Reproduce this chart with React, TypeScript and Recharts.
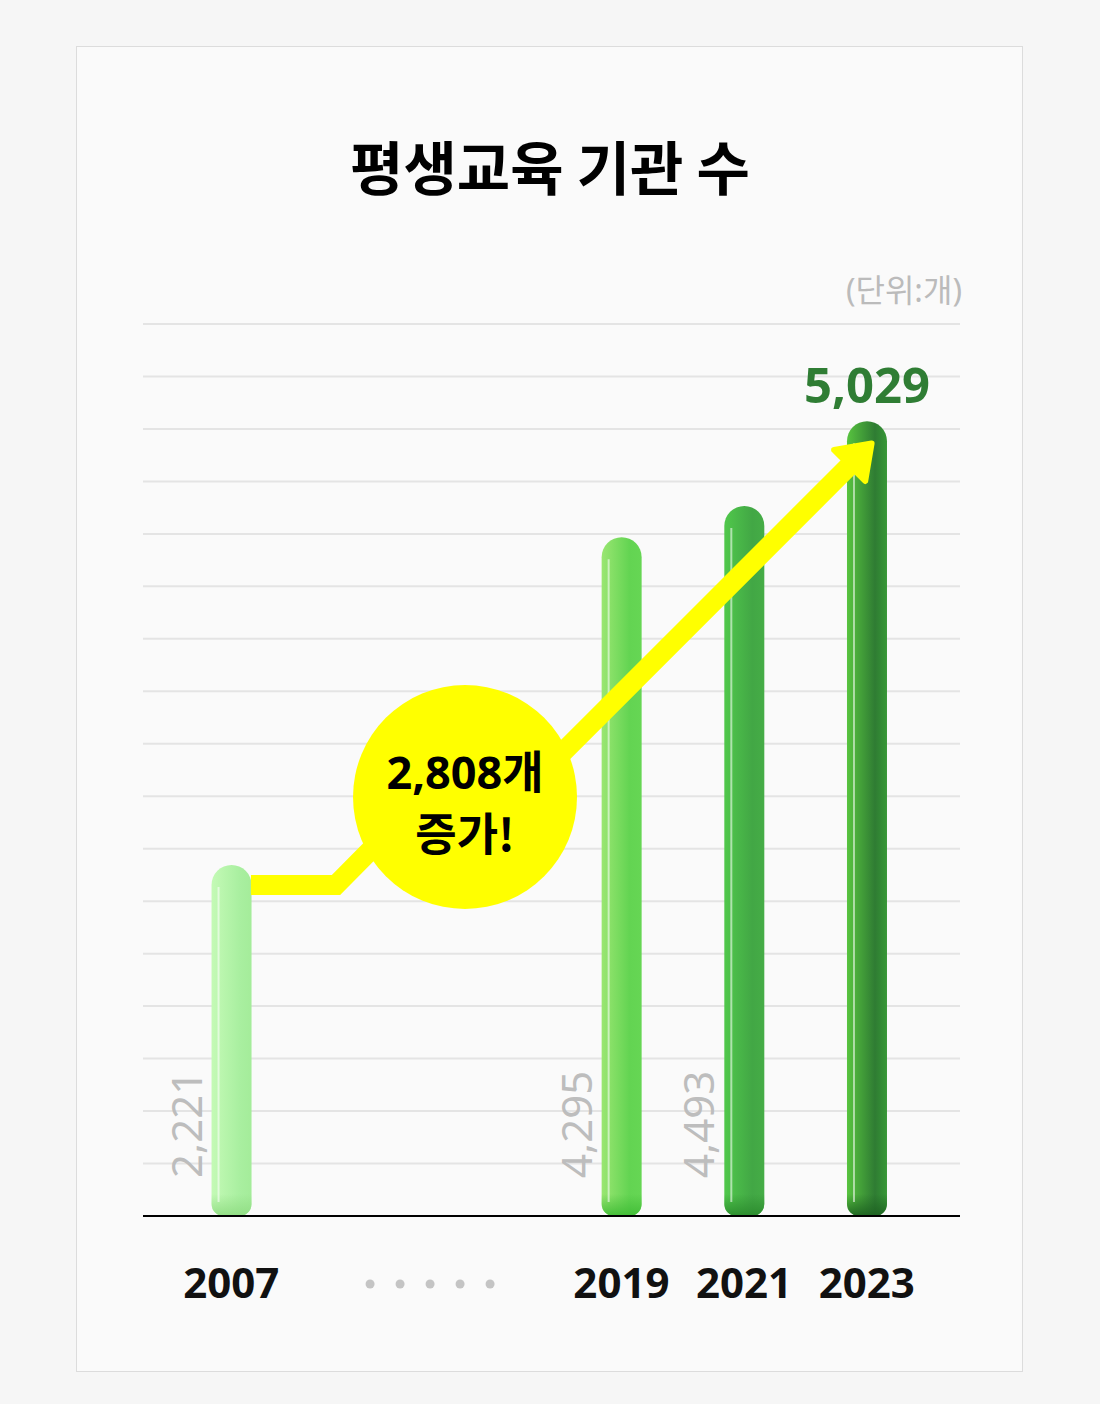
import React from 'react';
import {
  ComposedChart,
  Bar,
  Line,
  XAxis,
  YAxis,
  CartesianGrid,
  ReferenceDot,
  LabelList,
} from 'recharts';

// ---------- data ----------
const chartTitle = '평생교육 기관 수';
const unitLabel = '(단위:개)';
const years = ['2007', '2019', '2021', '2023'];
const counts = [2221, 4295, 4493, 5029];
// horizontal slot of each year on the (compressed) timeline
const yearSlots = [0, 3.18, 4.18, 5.18];
const gapSlot = 1.62; // the "· · · · ·" break between 2007 and 2019
const yTicks = [0, 332, 664, 996, 1328, 1660, 1992, 2324, 2656, 2988, 3320, 3652, 3984, 4316, 4648, 4980, 5312, 5644];
// arrow annotation path (slot, value)
const arrowSlots = [0.16, 0.853, 1.62, 2.394, 5.052];
const arrowValues = [2094, 2094, 2695, 2695, 4758];
// badge annotation (slot, value)
const badgeSlot = 1.905;
const badgeValue = 2651;

const barData = years.map((year, i) => ({ year, pos: yearSlots[i], v: counts[i] }));
const arrowData = arrowSlots.map((pos, i) => ({ pos, v: arrowValues[i], head: i === arrowSlots.length - 1 }));
const tickSlots = [yearSlots[0], gapSlot, ...yearSlots.slice(1)];
const tickLabels = [years[0], '', ...years.slice(1)];
const increase = counts[counts.length - 1] - counts[0];

// ---------- styles ----------
const FONT = "'Noto Sans', 'Noto Sans CJK KR', sans-serif";
const KFONT = "'Noto Sans CJK KR', 'Noto Sans', sans-serif";
const BAR_W = 40;
const barColors = [
  ['#c4fab6', '#a9efa0', '#a4ec9a', '#8fdc82'],
  ['#9ae672', '#63d452', '#66d654', '#3fbb35'],
  ['#50c84b', '#42a745', '#45ad46', '#2a8a2c'],
  ['#58c43f', '#2f7c33', '#379836', '#1c6020'],
];

const BarShape = (props: any) => {
  const { x, y, width, height, index } = props;
  if (!height || height <= 0) return <g />;
  const cols = barColors[index % barColors.length];
  const left = x + width / 2 - BAR_W / 2;
  const right = left + BAR_W;
  const r = BAR_W / 2;
  const rb = 12;
  const bottom = y + height;
  const d = `M${left},${bottom - rb} L${left},${y + r} A${r},${r} 0 0 1 ${right},${y + r} L${right},${bottom - rb} A${rb},${rb} 0 0 1 ${right - rb},${bottom} L${left + rb},${bottom} A${rb},${rb} 0 0 1 ${left},${bottom - rb} Z`;
  return (
    <g>
      <defs>
        <linearGradient id={`bh${index}`} x1="0" y1="0" x2="1" y2="0">
          <stop offset="0" stopColor={cols[0]} />
          <stop offset="0.7" stopColor={cols[1]} />
          <stop offset="1" stopColor={cols[2]} />
        </linearGradient>
        <linearGradient id={`bv${index}`} gradientUnits="userSpaceOnUse" x1="0" y1={bottom - 22} x2="0" y2={bottom}>
          <stop offset="0" stopColor={cols[3]} stopOpacity="0" />
          <stop offset="1" stopColor={cols[3]} stopOpacity="0.9" />
        </linearGradient>
      </defs>
      <path d={d} fill={`url(#bh${index})`} />
      <path d={d} fill={`url(#bv${index})`} />
      <line x1={left + 7} x2={left + 7} y1={y + r + 2} y2={bottom - 14} stroke="#ffffff" strokeOpacity="0.55" strokeWidth={2} />
    </g>
  );
};

const ValueLabel = (props: any) => {
  const { x, y, width, height, value, index } = props;
  const txt = Number(value).toLocaleString('en-US');
  const cx = x + width / 2;
  if (index === counts.length - 1) {
    return (
      <text x={cx} y={y - 18} textAnchor="middle" fontFamily={FONT} fontWeight={700} fontSize={49} fill="#2f7d34">
        {txt}
      </text>
    );
  }
  const bx = cx - BAR_W / 2 - 10;
  const by = y + height - 38;
  return (
    <text x={bx} y={by} transform={`rotate(-90 ${bx} ${by})`} textAnchor="start" fontFamily={FONT} fontSize={42} fill="#bdbdbd">
      {txt}
    </text>
  );
};

const XTick = (props: any) => {
  const { x, y, payload } = props;
  const idx = tickSlots.findIndex((s) => Math.abs(s - payload.value) < 1e-6);
  const label = idx >= 0 ? tickLabels[idx] : '';
  if (label === '') {
    return (
      <g>
        {[-2, -1, 0, 1, 2].map((k) => (
          <circle key={k} cx={x + k * 30} cy={y + 68} r={4.5} fill="#c4c4c4" />
        ))}
      </g>
    );
  }
  return (
    <text x={x} y={y + 82} textAnchor="middle" fontFamily={FONT} fontWeight={700} fontSize={42} fill="#111">
      {label}
    </text>
  );
};

const ArrowDot = (props: any) => {
  const { cx, cy, payload, index } = props;
  if (!payload || !payload.head) return <g key={`d${index}`} />;
  return (
    <g key={`d${index}`} transform={`translate(${cx},${cy}) rotate(-45)`}>
      <polygon points="29,0 -2,-22 -2,22" fill="#ffff00" stroke="#ffff00" strokeWidth={6} strokeLinejoin="round" />
    </g>
  );
};

const Badge = (props: any) => {
  const { cx, cy } = props;
  return (
    <g>
      <circle cx={cx} cy={cy} r={112} fill="#ffff00" />
      <text x={cx} y={cy - 8} textAnchor="middle" fontFamily={FONT} fontWeight={700} fontSize={45} fill="#000">
        {`${increase.toLocaleString('en-US')}개`}
      </text>
      <text x={cx} y={cy + 54} textAnchor="middle" fontFamily={KFONT} fontWeight={700} fontSize={45} fill="#000">
        증가!
      </text>
    </g>
  );
};

export default function App() {
  return (
    <div style={{ position: 'absolute', left: 0, top: 0, width: 1100, height: 1404, background: '#f6f6f6', overflow: 'hidden' }}>
      <div
        style={{
          position: 'absolute',
          left: 76,
          top: 46,
          width: 945,
          height: 1324,
          background: '#fafafa',
          border: '1px solid #dcdcdc',
        }}
      />
      <svg width={1100} height={320} style={{ position: 'absolute', left: 0, top: 0 }}>
        <text x={550} y={190} textAnchor="middle" fontFamily={KFONT} fontWeight={700} fontSize={58} fill="#000">
          {chartTitle}
        </text>
        <text x={962} y={302} textAnchor="end" fontFamily={FONT} fontSize={32} fill="#bbbbbb">
          {unitLabel}
        </text>
      </svg>
      <div style={{ position: 'absolute', left: 0, top: 0 }}>
        <ComposedChart width={1100} height={1404} data={barData} margin={{ top: 324, right: 140, bottom: 88, left: 143 }}>
          <CartesianGrid vertical={false} stroke="#e4e4e4" strokeWidth={2} />
          <XAxis
            dataKey="pos"
            type="number"
            domain={[-0.72, 5.94]}
            ticks={tickSlots}
            interval={0}
            height={100}
            tickLine={false}
            tickSize={0}
            tickMargin={0}
            axisLine={{ stroke: '#000', strokeWidth: 2 }}
            tick={<XTick />}
          />
          <YAxis hide domain={[0, 5644]} ticks={yTicks} type="number" />
          <Bar dataKey="v" barSize={BAR_W} shape={<BarShape />} isAnimationActive={false}>
            <LabelList dataKey="v" content={<ValueLabel />} />
          </Bar>
          <Line
            data={arrowData}
            dataKey="v"
            type="linear"
            stroke="#ffff00"
            strokeWidth={20}
            strokeLinejoin="miter"
            strokeLinecap="butt"
            dot={<ArrowDot />}
            activeDot={false}
            isAnimationActive={false}
          />
          <ReferenceDot x={badgeSlot} y={badgeValue} r={112} shape={<Badge />} />
        </ComposedChart>
      </div>
    </div>
  );
}
